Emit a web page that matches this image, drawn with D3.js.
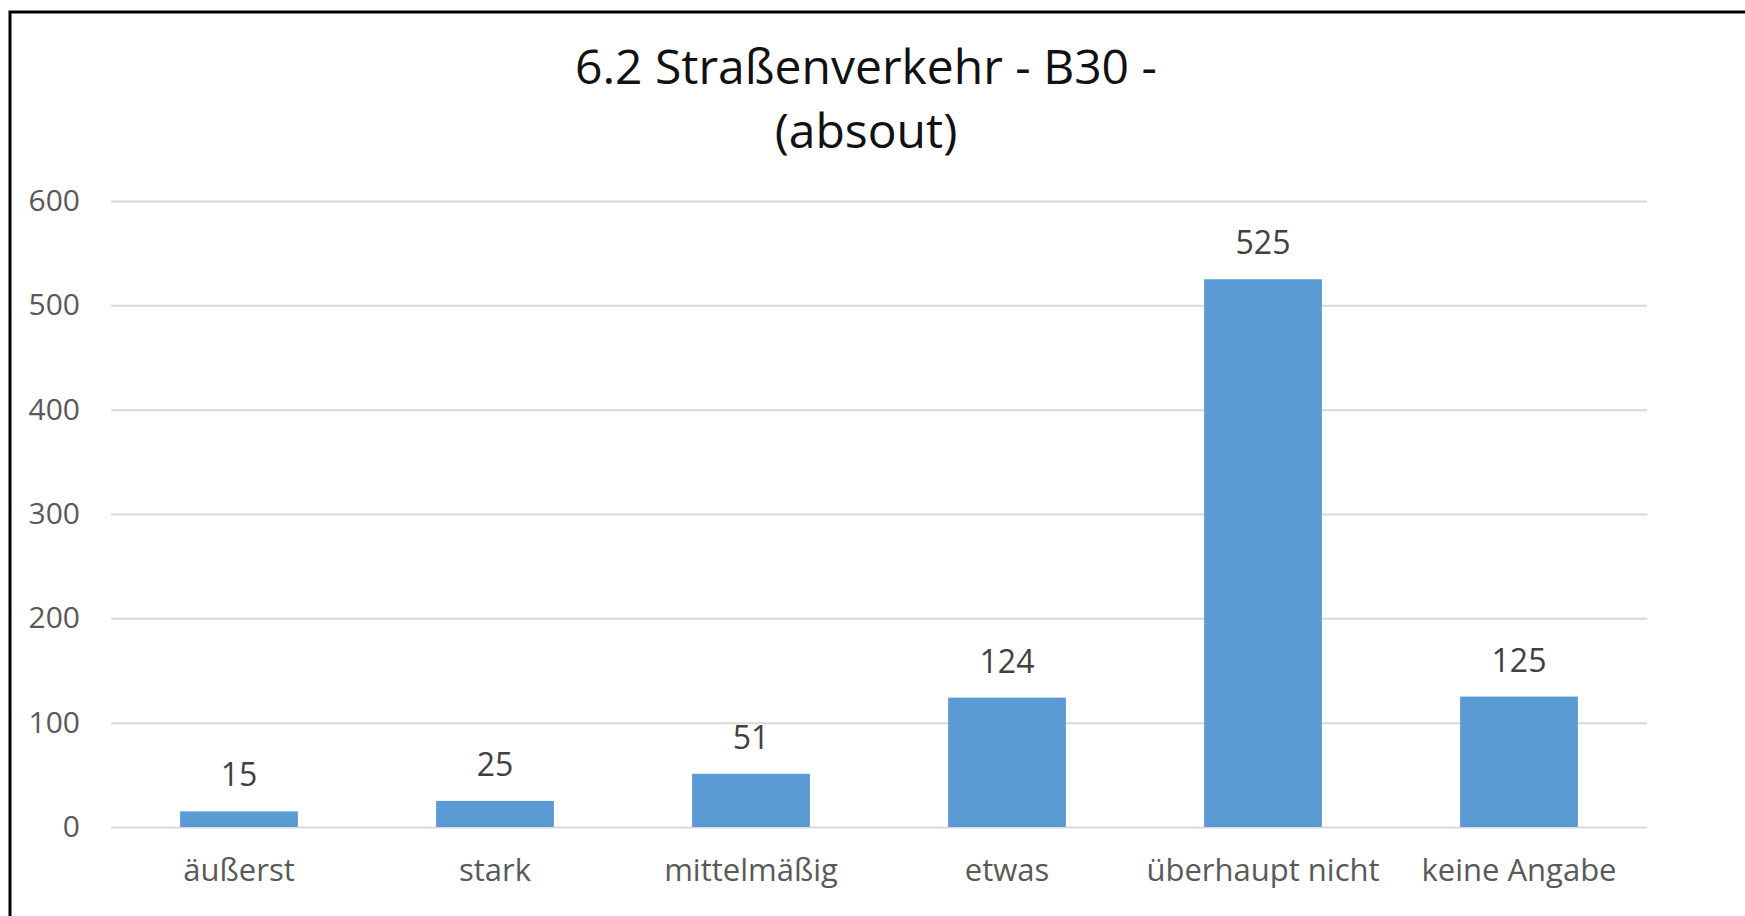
<!DOCTYPE html>
<html>
<head>
<meta charset="utf-8">
<script src="https://cdn.jsdelivr.net/npm/d3@7"></script>
<style>
  html, body { margin: 0; padding: 0; background: #fff; }
  svg { display: block; font-family: "Open Sans", sans-serif; }
</style>
</head>
<body>
<div class="chart"></div>
<script>
const categories = ["äußerst", "stark", "mittelmäßig", "etwas", "überhaupt nicht", "keine Angabe"];
const values = [15, 25, 51, 124, 525, 125];
const yTicks = [0, 100, 200, 300, 400, 500, 600];
const titleLines = ["6.2 Straßenverkehr - B30 -", "(absout)"];

const W = 1745, H = 916;
const margin = ({top: 201, right: 98, bottom: 89, left: 111});
const width = W - margin.left - margin.right, height = H - margin.top - margin.bottom;

var svg = d3.select('.chart')
            .append('svg')
            .attr("width", W)
            .attr("height", H);

// frame (only left and top edges are visible in the picture)
svg.append("path")
   .attr("d", `M10,${H} L10,12 L${W},12`)
   .attr("fill", "none")
   .attr("stroke", "#000")
   .attr("stroke-width", 3);

svg.selectAll(".title")
   .data(titleLines)
   .enter()
   .append("text")
   .attr("class", "title")
   .attr("x", 866)
   .attr("y", (d, i) => 84 + i * 64)
   .attr("text-anchor", "middle")
   .attr("font-size", 48)
   .attr("fill", "#111")
   .text(d => d);

var g = svg.append("g")
           .attr("transform", "translate(" + margin.left + "," + margin.top + ")");

var x = d3.scaleBand()
          .domain(categories)
          .range([0, width])
          .paddingInner(0.54)
          .paddingOuter(0.27);

var y = d3.scaleLinear()
          .domain([0, 600])
          .range([height, 0]);

const yAxis = d3.axisLeft(y)
                .tickValues(yTicks)
                .tickSize(-width)
                .tickPadding(31);

g.append("g")
 .attr("class", "axis y-axis")
 .call(yAxis)
 .call(a => a.select(".domain").remove())
 .call(a => a.selectAll("line").attr("stroke", "#d9d9d9").attr("stroke-width", 2))
 .call(a => a.selectAll("text")
             .attr("font-family", "Open Sans, sans-serif")
             .attr("font-size", 30)
             .attr("fill", "#595959"));

const xAxis = d3.axisBottom(x)
                .tickSize(0)
                .tickPadding(32);

g.append("g")
 .attr("class", "axis x-axis")
 .attr("transform", `translate(0, ${height})`)
 .call(xAxis)
 .call(a => a.select(".domain").remove())
 .call(a => a.selectAll("text")
             .attr("font-family", "Open Sans, sans-serif")
             .attr("font-size", 31)
             .attr("fill", "#595959"));

g.selectAll("rect.bar")
 .data(values)
 .enter()
 .append("rect")
 .attr("class", "bar")
 .attr("x", (d, i) => x(categories[i]))
 .attr("y", d => y(d))
 .attr("width", x.bandwidth())
 .attr("height", d => height - y(d))
 .attr("fill", "#5b9bd5");

g.selectAll("text.val")
 .data(values)
 .enter()
 .append("text")
 .attr("class", "val")
 .attr("x", (d, i) => x(categories[i]) + x.bandwidth() / 2)
 .attr("y", d => y(d) - 25)
 .attr("text-anchor", "middle")
 .attr("font-size", 32)
 .attr("fill", "#404040")
 .text(d => d);
</script>
</body>
</html>
